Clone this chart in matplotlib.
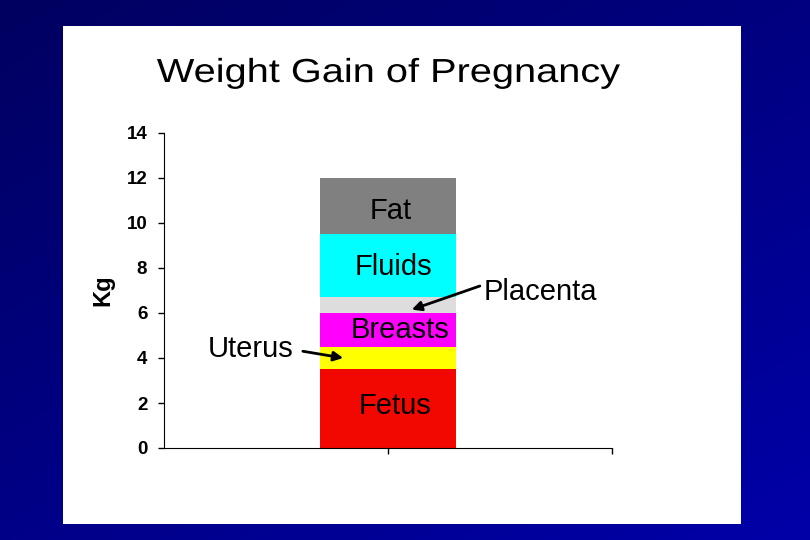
import numpy as np
import matplotlib.pyplot as plt
from matplotlib.patches import Rectangle, PathPatch
from matplotlib.textpath import TextPath
from matplotlib.font_manager import FontProperties
from matplotlib.transforms import Affine2D, IdentityTransform
from matplotlib.colors import LinearSegmentedColormap

plt.rcParams['font.family'] = ['Liberation Sans', 'DejaVu Sans']

# data (kg)
parts = ['Fetus', 'Uterus', 'Breasts', 'Placenta', 'Fluids', 'Fat']
kg = [3.5, 1.0, 1.5, 0.7, 2.8, 2.5]
colors = ['#F20800', '#FFFF00', '#FF00FF', '#DDDDDD', '#00FFFF', '#808080']
yticks = [0, 2, 4, 6, 8, 10, 12, 14]
title = 'Weight Gain of Pregnancy'

DPI = 100
fig = plt.figure(figsize=(8.1, 5.4), dpi=DPI)

# blue slide background
bg = fig.add_axes([0, 0, 1, 1])
yy, xx = np.mgrid[0:1:200j, 0:1:300j]
grad = 0.45 * xx + 0.55 * yy
bg.imshow(grad, cmap=LinearSegmentedColormap.from_list('slide', ['#000060', '#0000A8']),
          extent=[0, 1, 0, 1], origin='upper', aspect='auto')
bg.add_patch(Rectangle((63 / 810, 1 - 524 / 540), (741 - 63) / 810, (524 - 26) / 540,
                       facecolor='white', edgecolor='none'))
bg.set_xlim(0, 1)
bg.set_ylim(0, 1)
bg.axis('off')

ax = fig.add_axes([164 / 810, 1 - 448 / 540, (612 - 164) / 810, (448 - 133) / 540])
ax.set_facecolor('none')

bottom = 0.0
for name, v, c in zip(parts, kg, colors):
    ax.bar(0.5, v, width=0.304, bottom=bottom, color=c, edgecolor='none')
    bottom += v

ax.set_xlim(0, 1)
ax.set_ylim(0, 14)
ax.set_yticks(yticks)
ax.set_yticklabels([str(t) for t in yticks], fontsize=13.5, fontweight='bold')
ax.set_xticks([0.5, 1.0])
ax.set_xticklabels([])
ax.tick_params(axis='both', direction='out', length=4, width=1, colors='black', pad=8)
ax.spines['top'].set_visible(False)
ax.spines['right'].set_visible(False)
ax.set_ylabel('Kg', fontsize=17, fontweight='bold', labelpad=9)

# segment labels
mids = np.cumsum(kg) - np.array(kg) / 2
fs = 21
ax.text(0.505, mids[5] - 0.2, 'Fat', ha='center', va='center', fontsize=fs)
ax.text(0.513, mids[4] - 0.05, 'Fluids', ha='center', va='center', fontsize=fs)
ax.text(0.526, mids[2] + 0.0, 'Breasts', ha='center', va='center', fontsize=fs)
ax.text(0.515, mids[0] + 0.1, 'Fetus', ha='center', va='center', fontsize=fs)

ax.text(0.714, 6.95, 'Placenta', ha='left', va='center', fontsize=fs)
ax.annotate('', xy=(0.553, 6.15), xytext=(0.705, 7.2),
            arrowprops=dict(arrowstyle='-|>', color='black', lw=2, shrinkA=0, shrinkB=0,
                            mutation_scale=14))
ax.text(0.288, 4.4, 'Uterus', ha='right', va='center', fontsize=fs)
ax.annotate('', xy=(0.40, 4.0), xytext=(0.31, 4.3),
            arrowprops=dict(arrowstyle='-|>', color='black', lw=2, shrinkA=0, shrinkB=0,
                            mutation_scale=14))

# title, drawn as a path so it can be stretched a bit wider like the original
tp = TextPath((0, 0), title, size=24, prop=FontProperties(family='Liberation Sans'))
ext = tp.get_extents()
sy = DPI / 72
sx = 463 / (ext.width * sy) * sy
tr = Affine2D().translate(-ext.x0, 0).scale(sx, sy).translate(157, 540 - 82)
fig.patches.append(PathPatch(tp, transform=tr + IdentityTransform(),
                             facecolor='black', edgecolor='none', figure=fig))

fig.savefig('out.png', dpi=DPI)
